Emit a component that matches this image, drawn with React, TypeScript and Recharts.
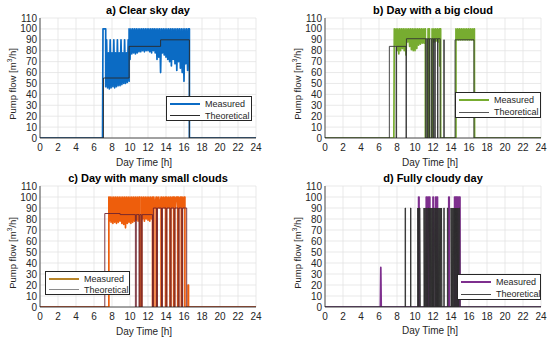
import React from 'react';
import { LineChart, Line, XAxis, YAxis, CartesianGrid } from 'recharts';

type Pt = [number, number];

const xTicks = [0, 2, 4, 6, 8, 10, 12, 14, 16, 18, 20, 22, 24];
const yTicks = [0, 10, 20, 30, 40, 50, 60, 70, 80, 90, 100, 110];

// a) Clear sky day
const measuredA: Pt[] = [
  [0, 0], [6.95, 0], [7.0, 100], [7.3, 100], [7.3, 47], [7.4, 90], [7.5, 46], [7.6, 78], [7.7, 45], [7.8, 90],
  [7.9, 46], [8.0, 78], [8.1, 47], [8.2, 90], [8.3, 46], [8.4, 78], [8.5, 47], [8.6, 90], [8.7, 48], [8.8, 78],
  [8.9, 48], [9.0, 90], [9.1, 49], [9.2, 78], [9.3, 50], [9.4, 90], [9.5, 50], [9.6, 78], [9.7, 51], [9.8, 90],
  [9.9, 52], [9.9, 100], [10.0, 72], [10.1, 100], [10.2, 77], [10.3, 100], [10.4, 78], [10.5, 100], [10.6, 77],
  [10.7, 100], [10.8, 78], [10.9, 100], [11.0, 79], [11.1, 100], [11.2, 79], [11.3, 100], [11.4, 80], [11.5, 100],
  [11.6, 79], [11.7, 100], [11.8, 80], [11.9, 100], [12.0, 80], [12.1, 100], [12.2, 79], [12.3, 100], [12.4, 78],
  [12.5, 100], [12.6, 80], [12.7, 100], [12.8, 78], [12.9, 100], [13.0, 72], [13.1, 100], [13.2, 74], [13.3, 100],
  [13.4, 60], [13.5, 100], [13.6, 78], [13.7, 100], [13.8, 76], [13.9, 100], [14.0, 74], [14.1, 100], [14.2, 72],
  [14.3, 100], [14.4, 70], [14.5, 100], [14.6, 66], [14.7, 100], [14.8, 72], [14.9, 100], [15.0, 68], [15.1, 100],
  [15.2, 62], [15.3, 100], [15.4, 70], [15.5, 100], [15.6, 64], [15.7, 100], [15.8, 60], [15.9, 100], [16.0, 52],
  [16.1, 100], [16.2, 68], [16.3, 100], [16.4, 62], [16.5, 100], [16.6, 100], [16.6, 0], [24, 0],
];
const theoreticalA: Pt[] = [
  [0, 0], [7.05, 0], [7.05, 55], [9.9, 55], [9.9, 84], [13.4, 84], [13.4, 90], [16.6, 90], [16.6, 0], [24, 0],
];

// b) Day with a big cloud
const measuredB: Pt[] = [
  [0, 0], [7.65, 0], [7.7, 100], [7.8, 85], [7.9, 100], [8.0, 80], [8.1, 100], [8.2, 77], [8.3, 100], [8.4, 80],
  [8.5, 100], [8.6, 82], [8.7, 100], [8.8, 80], [8.9, 100], [9.0, 76], [9.1, 100], [9.2, 88], [9.3, 100], [9.4, 84],
  [9.5, 100], [9.6, 81], [9.7, 100], [9.8, 80], [9.9, 100], [10.0, 80], [10.1, 100], [10.2, 82], [10.3, 100],
  [10.4, 85], [10.5, 100], [10.6, 86], [10.7, 100], [10.8, 87], [10.9, 100], [11.0, 87], [11.1, 100], [11.15, 100],
  [11.15, 0], [11.45, 0], [11.45, 100], [11.5, 90], [11.55, 100], [11.6, 100], [11.6, 0], [11.9, 0], [11.9, 100],
  [12.0, 88], [12.1, 100], [12.2, 88], [12.3, 100], [12.4, 89], [12.5, 100], [12.6, 88], [12.7, 100], [12.75, 66],
  [12.8, 100], [12.85, 100], [12.85, 0], [14.55, 0], [14.55, 100], [14.65, 90], [14.75, 100], [14.85, 90],
  [14.95, 100], [15.05, 90], [15.15, 100], [15.25, 90], [15.35, 100], [15.45, 90], [15.55, 100], [15.65, 90],
  [15.75, 100], [15.85, 90], [15.95, 100], [16.05, 90], [16.15, 100], [16.25, 90], [16.35, 100], [16.45, 90],
  [16.55, 100], [16.6, 100], [16.6, 66], [16.62, 0], [24, 0],
];
const theoreticalB: Pt[] = [
  [0, 0], [7.15, 0], [7.15, 84], [7.9, 84], [7.9, 0], [7.95, 0], [7.95, 84], [9.0, 84], [9.0, 0], [9.05, 0],
  [9.05, 91], [11.2, 91], [11.2, 0], [11.25, 0], [11.25, 91], [11.4, 91], [11.4, 0], [11.45, 0], [11.45, 91],
  [11.6, 91], [11.6, 0], [11.65, 0], [11.65, 91], [11.85, 91], [11.85, 0], [11.9, 0], [11.9, 91], [12.05, 91],
  [12.05, 0], [12.1, 0], [12.1, 91], [12.2, 91], [12.2, 0], [12.25, 0], [12.25, 91], [12.5, 91], [12.5, 0],
  [12.55, 0], [12.55, 91], [12.8, 91], [12.8, 0], [13.2, 0], [13.2, 90], [13.25, 90], [13.25, 0], [14.45, 0],
  [14.45, 90], [16.55, 90], [16.55, 0], [24, 0],
];

// c) Day with many small clouds
const measuredC: Pt[] = [
  [0, 0], [7.65, 0], [7.65, 100], [7.7, 78], [7.8, 100], [7.9, 77], [8.0, 100], [8.1, 76], [8.2, 100], [8.3, 77],
  [8.4, 100], [8.5, 76], [8.6, 100], [8.7, 77], [8.8, 100], [8.9, 78], [9.0, 100], [9.1, 76], [9.2, 100], [9.3, 75],
  [9.4, 100], [9.5, 72], [9.6, 100], [9.7, 76], [9.8, 100], [9.9, 77], [10.0, 100], [10.1, 76], [10.2, 100],
  [10.3, 77], [10.4, 100], [10.5, 78], [10.6, 100], [10.7, 79], [10.8, 100], [10.9, 78], [11.0, 100], [11.1, 100],
  [11.1, 0], [11.3, 0], [11.3, 100], [11.4, 80], [11.5, 100], [11.6, 78], [11.7, 100], [11.8, 80], [11.9, 100],
  [12.0, 79], [12.1, 100], [12.2, 78], [12.3, 100], [12.4, 80], [12.5, 100], [12.5, 0], [12.65, 0], [12.65, 100],
  [12.75, 90], [12.9, 100], [12.9, 0], [13.0, 0], [13.0, 100], [13.1, 90], [13.2, 100], [13.3, 90], [13.45, 100],
  [13.45, 0], [13.55, 0], [13.55, 100], [13.65, 90], [13.75, 100], [13.85, 90], [13.95, 100], [13.95, 0],
  [14.05, 0], [14.05, 100], [14.15, 90], [14.25, 100], [14.35, 90], [14.45, 100], [14.45, 0], [14.55, 0],
  [14.55, 100], [14.65, 90], [14.75, 100], [14.85, 100], [14.85, 0], [14.95, 0], [14.95, 100], [15.05, 90],
  [15.15, 100], [15.3, 100], [15.3, 0], [15.4, 0], [15.4, 100], [15.5, 90], [15.6, 100], [15.7, 100], [15.7, 0],
  [15.8, 0], [15.8, 100], [15.9, 90], [16.0, 100], [16.1, 100], [16.1, 0], [16.45, 0], [16.45, 20], [16.5, 20],
  [16.5, 0], [24, 0],
];
const theoreticalC: Pt[] = [
  [0, 0], [7.2, 0], [7.2, 85], [8.9, 85], [8.9, 84], [10.6, 84], [10.6, 0], [10.7, 0], [10.7, 84], [11.0, 84],
  [11.0, 0], [11.1, 0], [11.1, 84], [11.25, 84], [11.25, 0], [11.35, 0], [11.35, 84], [12.5, 84], [12.5, 0],
  [12.6, 0], [12.6, 90], [12.95, 90], [12.95, 0], [13.05, 0], [13.05, 90], [13.5, 90], [13.5, 0], [13.6, 0],
  [13.6, 90], [14.0, 90], [14.0, 0], [14.1, 0], [14.1, 90], [14.45, 90], [14.45, 0], [14.55, 0], [14.55, 90],
  [14.9, 90], [14.9, 0], [15.0, 0], [15.0, 90], [15.35, 90], [15.35, 0], [15.45, 0], [15.45, 90], [15.75, 90],
  [15.75, 0], [15.85, 0], [15.85, 90], [16.3, 90], [16.3, 0], [24, 0],
];

// d) Fully cloudy day
const measuredD: Pt[] = [
  [0, 0], [6.15, 0], [6.2, 36], [6.25, 0], [10.4, 0], [10.4, 100], [10.45, 100], [10.45, 0], [11.25, 0],
  [11.25, 100], [11.3, 100], [11.3, 0], [11.45, 0], [11.45, 100], [11.5, 100], [11.5, 0], [11.6, 0], [11.6, 100],
  [11.65, 100], [11.65, 0], [12.0, 0], [12.0, 100], [12.05, 100], [12.05, 0], [12.3, 0], [12.3, 100], [12.35, 100],
  [12.35, 0], [12.45, 0], [12.45, 100], [12.5, 100], [12.5, 0], [13.75, 0], [13.75, 100], [13.8, 100], [13.8, 0],
  [14.4, 0], [14.4, 100], [14.55, 100], [14.55, 0], [14.6, 0], [14.6, 100], [14.75, 100], [14.75, 0], [14.85, 0],
  [14.85, 100], [15.0, 100], [15.0, 0], [24, 0],
];
const theoreticalD: Pt[] = [
  [0, 0], [8.9, 0], [8.9, 90], [8.95, 90], [8.95, 0], [9.5, 0], [9.5, 90], [9.55, 90], [9.55, 0], [10.3, 0],
  [10.3, 90], [10.35, 0], [10.4, 90], [10.45, 0], [10.5, 90], [10.55, 90], [10.6, 0], [11.0, 0], [11.0, 90],
  [11.05, 0], [11.1, 90], [11.15, 0], [11.2, 90], [11.25, 90], [11.3, 0], [11.35, 90], [11.4, 0], [11.45, 90],
  [11.5, 90], [11.55, 0], [11.6, 90], [11.65, 0], [11.7, 90], [11.75, 0], [11.8, 90], [11.85, 0], [11.9, 90],
  [11.95, 0], [12.0, 90], [12.05, 0], [12.1, 90], [12.15, 90], [12.2, 0], [12.25, 90], [12.3, 0], [12.35, 90],
  [12.4, 0], [12.45, 90], [12.5, 0], [12.55, 90], [12.6, 0], [12.65, 90], [12.7, 0], [12.75, 90], [12.8, 0],
  [12.85, 90], [12.9, 0], [12.95, 90], [13.0, 0], [13.2, 0], [13.2, 90], [13.25, 90], [13.25, 0], [13.6, 0],
  [13.6, 90], [13.65, 90], [13.65, 0], [14.0, 0], [14.0, 90], [14.05, 0], [14.1, 90], [14.15, 0], [14.2, 90],
  [14.25, 0], [14.3, 90], [14.35, 0], [14.4, 90], [14.45, 0], [14.5, 90], [14.55, 0], [14.6, 90], [14.65, 0],
  [14.7, 90], [14.75, 0], [14.8, 90], [14.85, 0], [14.9, 90], [14.95, 90], [15.0, 0], [24, 0],
];

const FONT = "'Liberation Sans', Arial, Helvetica, sans-serif";
const TXT = '#262626';

const rows = (p: Pt[]) => p.map(([t, v]) => ({ t, v }));

type PanelProps = {
  left: number;
  top: number;
  plotLeft: number;
  plotTop: number;
  plotBottom: number;
  title: string;
  yLabelX: number;
  xLabelX: number;
  xLabelY: number;
  measured: Pt[];
  theoretical: Pt[];
  mColor: string;
  tColor: string;
  mLegendColor: string;
  tLegendColor: string;
  legend: { x: number; y: number; w: number; h: number };
};

function Panel(p: PanelProps) {
  const W = 275;
  const H = 171;
  const plotW = 216;
  const plotCenterX = p.plotLeft + plotW / 2;
  const plotCenterY = (p.plotTop + p.plotBottom) / 2;
  const tickStyle = { fontSize: 10, fill: TXT, fontFamily: FONT };
  return (
    <div style={{ position: 'absolute', left: p.left, top: p.top, width: W, height: H }}>
      <LineChart
        width={W}
        height={H}
        margin={{ top: p.plotTop, right: W - p.plotLeft - plotW, bottom: 0, left: 0 }}
      >
        <CartesianGrid stroke="#e3e3e3" strokeWidth={0.8} />
        <XAxis
          type="number"
          dataKey="t"
          domain={[0, 24]}
          ticks={xTicks}
          interval={0}
          height={H - p.plotBottom}
          tickLine={false}
          tickSize={4}
          tickMargin={2}
          axisLine={{ stroke: TXT, strokeWidth: 0.8 }}
          tick={tickStyle}
          allowDataOverflow
        />
        <XAxis
          xAxisId="top"
          orientation="top"
          type="number"
          dataKey="t"
          domain={[0, 24]}
          ticks={xTicks}
          height={0}
          tick={false}
          tickLine={false}
          axisLine={{ stroke: TXT, strokeWidth: 0.8 }}
          allowDataOverflow
        />
        <YAxis
          type="number"
          domain={[0, 110]}
          ticks={yTicks}
          interval={0}
          width={p.plotLeft}
          tickLine={false}
          tickSize={2}
          tickMargin={1}
          axisLine={{ stroke: TXT, strokeWidth: 0.8 }}
          tick={tickStyle}
          allowDataOverflow
        />
        <YAxis
          yAxisId="right"
          orientation="right"
          type="number"
          domain={[0, 110]}
          ticks={yTicks}
          width={0}
          tick={false}
          tickLine={false}
          axisLine={{ stroke: TXT, strokeWidth: 0.8 }}
          allowDataOverflow
        />
        <Line
          data={rows(p.measured)}
          dataKey="v"
          type="linear"
          stroke={p.mColor}
          strokeWidth={1.7}
          strokeLinejoin="round"
          dot={false}
          isAnimationActive={false}
        />
        <Line
          data={rows(p.theoretical)}
          dataKey="v"
          type="linear"
          stroke={p.tColor}
          strokeWidth={0.9}
          dot={false}
          isAnimationActive={false}
        />
      </LineChart>
      <div
        style={{
          position: 'absolute',
          left: plotCenterX,
          top: p.plotTop - 8,
          transform: 'translate(-50%, -50%)',
          fontFamily: FONT,
          fontWeight: 'bold',
          fontSize: 11,
          lineHeight: 1,
          color: '#000',
          whiteSpace: 'nowrap',
        }}
      >
        {p.title}
      </div>
      <div
        style={{
          position: 'absolute',
          left: p.xLabelX,
          top: p.xLabelY,
          transform: 'translate(-50%, -50%)',
          fontFamily: FONT,
          fontSize: 10,
          lineHeight: 1,
          color: TXT,
          whiteSpace: 'nowrap',
        }}
      >
        Day Time [h]
      </div>
      <div
        style={{
          position: 'absolute',
          left: p.yLabelX,
          top: plotCenterY + 6,
          transform: 'translate(-50%, -50%) rotate(-90deg)',
          fontFamily: FONT,
          fontSize: 9.5,
          lineHeight: 1,
          color: TXT,
          whiteSpace: 'nowrap',
        }}
      >
        Pump flow [m<sup style={{ fontSize: 6.5, verticalAlign: 'super', lineHeight: 0 }}>3</sup>/h]
      </div>
      <div
        style={{
          position: 'absolute',
          left: p.legend.x,
          top: p.legend.y,
          width: p.legend.w,
          height: p.legend.h,
          boxSizing: 'border-box',
          border: `1px solid ${TXT}`,
          background: '#fff',
          fontFamily: FONT,
          fontSize: 9,
          color: TXT,
        }}
      >
        <div style={{ position: 'absolute', left: 3, width: 30, top: p.legend.h * 0.28 - 1, height: 2, background: p.mLegendColor }} />
        <div style={{ position: 'absolute', left: 38, top: p.legend.h * 0.28, transform: 'translateY(-50%)', lineHeight: 1, whiteSpace: 'nowrap' }}>
          Measured
        </div>
        <div style={{ position: 'absolute', left: 3, width: 30, top: p.legend.h * 0.74 - 0.5, height: 1, background: p.tLegendColor }} />
        <div style={{ position: 'absolute', left: 38, top: p.legend.h * 0.74, transform: 'translateY(-50%)', lineHeight: 1, whiteSpace: 'nowrap' }}>
          Theoretical
        </div>
      </div>
    </div>
  );
}

export default function App() {
  return (
    <div style={{ position: 'absolute', left: 0, top: 0, width: 550, height: 343, background: '#fff', overflow: 'hidden' }}>
      <Panel
        left={0}
        top={0}
        plotLeft={40}
        plotTop={18}
        plotBottom={138}
        title="a) Clear sky day"
        yLabelX={13}
        xLabelX={144}
        xLabelY={163}
        measured={measuredA}
        theoretical={theoreticalA}
        mColor="#0B6BC4"
        tColor="#2a2a2a"
        mLegendColor="#0B6BC4"
        tLegendColor="#2a2a2a"
        legend={{ x: 166, y: 96, w: 86, h: 25 }}
      />
      <Panel
        left={275}
        top={0}
        plotLeft={50}
        plotTop={18}
        plotBottom={138}
        title="b) Day with a big cloud"
        yLabelX={23}
        xLabelX={155}
        xLabelY={163}
        measured={measuredB}
        theoretical={theoreticalB}
        mColor="#77AC30"
        tColor="#333333"
        mLegendColor="#77AC30"
        tLegendColor="#555555"
        legend={{ x: 180, y: 92, w: 86, h: 26 }}
      />
      <Panel
        left={0}
        top={171}
        plotLeft={40}
        plotTop={15}
        plotBottom={136}
        title="c) Day with many small clouds"
        yLabelX={13}
        xLabelX={144}
        xLabelY={161}
        measured={measuredC}
        theoretical={theoreticalC}
        mColor="#EE5E0C"
        tColor="#6E2430"
        mLegendColor="#B8862B"
        tLegendColor="#8a8a8a"
        legend={{ x: 45, y: 100, w: 85, h: 24 }}
      />
      <Panel
        left={275}
        top={171}
        plotLeft={50}
        plotTop={15}
        plotBottom={136}
        title="d) Fully cloudy day"
        yLabelX={23}
        xLabelX={155}
        xLabelY={160}
        measured={measuredD}
        theoretical={theoreticalD}
        mColor="#7E2F8E"
        tColor="#2e2e2e"
        mLegendColor="#7E2F8E"
        tLegendColor="#444444"
        legend={{ x: 182, y: 103, w: 84, h: 26 }}
      />
    </div>
  );
}
